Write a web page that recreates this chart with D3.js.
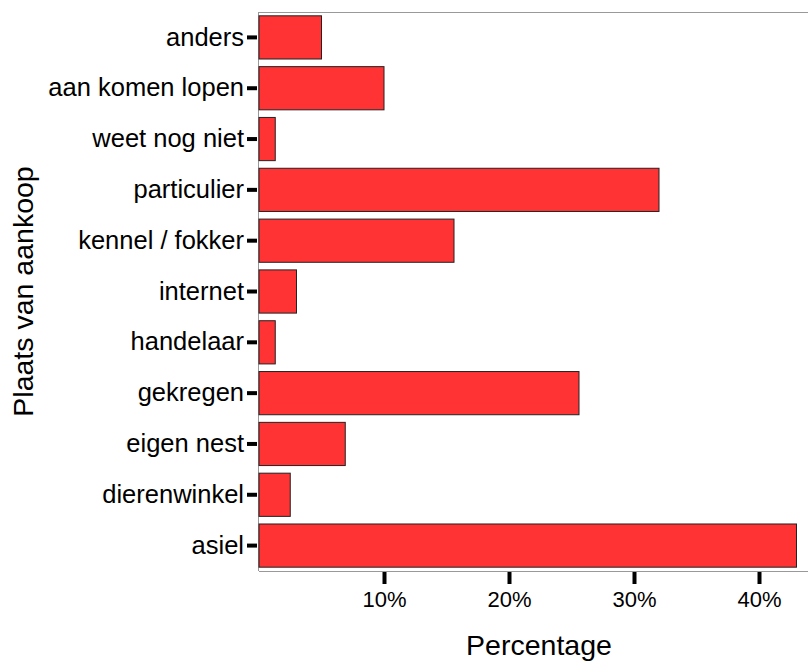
<!DOCTYPE html>
<html>
<head>
<meta charset="utf-8">
<script src="https://cdn.jsdelivr.net/npm/d3@7"></script>
<style>
    body { margin: 0; background: #fff; }
    svg text { font-family: "Liberation Sans", Arial, sans-serif; fill: #000; }
</style>
</head>
<body>
<svg id="chart"></svg>
<script>
// categories top to bottom, as in the picture
const categories = ["anders", "aan komen lopen", "weet nog niet", "particulier", "kennel / fokker",
    "internet", "handelaar", "gekregen", "eigen nest", "dierenwinkel", "asiel"];
const percentages = [5.0, 10.0, 1.3, 32.0, 15.6, 3.0, 1.3, 25.6, 6.9, 2.5, 43.0];
const xTicks = [10, 20, 30, 40];

const width = 808, height = 661;
const margin = {top: 12, right: 0, bottom: 90, left: 259};

const svg = d3.select("svg#chart")
    .attr("width", width)
    .attr("height", height);

const xScale = d3.scaleLinear()
    .domain([0, 43.92])
    .range([margin.left, width - margin.right]);

const yScale = d3.scaleBand()
    .domain(categories)
    .range([margin.top, height - margin.bottom])
    .paddingInner(0.15)
    .paddingOuter(0.075);

// frame lines
svg.append("line")
    .attr("x1", margin.left).attr("x2", width)
    .attr("y1", margin.top + 0.5).attr("y2", margin.top + 0.5)
    .attr("stroke", "#999");

svg.append("line")
    .attr("x1", margin.left).attr("x2", width)
    .attr("y1", height - margin.bottom + 0.5).attr("y2", height - margin.bottom + 0.5)
    .attr("stroke", "#999");

svg.append("line")
    .attr("x1", margin.left - 0.5).attr("x2", margin.left - 0.5)
    .attr("y1", margin.top).attr("y2", height - margin.bottom)
    .attr("stroke", "#999");

// bars
svg.append("g")
    .selectAll("rect")
    .data(categories)
    .enter().append("rect")
    .attr("x", xScale(0))
    .attr("y", (d) => yScale(d))
    .attr("width", (d, i) => xScale(percentages[i]) - xScale(0))
    .attr("height", yScale.bandwidth())
    .attr("fill", "#ff3333")
    .attr("stroke", "#222")
    .attr("stroke-width", 1);

// y axis
const yAxis = svg.append("g")
    .attr("transform", "translate(" + (margin.left - 2) + ",0)")
    .call(d3.axisLeft(yScale).tickSize(10).tickPadding(3));
yAxis.select(".domain").remove();
yAxis.selectAll(".tick line").attr("stroke", "#000").attr("stroke-width", 4);
yAxis.selectAll(".tick text").attr("font-size", "25.5px").attr("fill", "#000");

// x axis
const xAxis = svg.append("g")
    .attr("transform", "translate(0," + (height - margin.bottom + 1) + ")")
    .call(d3.axisBottom(xScale).tickValues(xTicks).tickFormat((d) => d + "%").tickSize(12).tickPadding(7));
xAxis.select(".domain").remove();
xAxis.selectAll(".tick line").attr("stroke", "#000").attr("stroke-width", 4);
xAxis.selectAll(".tick text").attr("font-size", "22px").attr("fill", "#000");

// axis titles
svg.append("text")
    .attr("x", 539)
    .attr("y", 655)
    .attr("text-anchor", "middle")
    .attr("font-size", "28.5px")
    .text("Percentage");

svg.append("text")
    .attr("transform", "translate(33," + ((margin.top + height - margin.bottom) / 2) + ") rotate(-90)")
    .attr("text-anchor", "middle")
    .attr("font-size", "28.5px")
    .text("Plaats van aankoop");
</script>
</body>
</html>
